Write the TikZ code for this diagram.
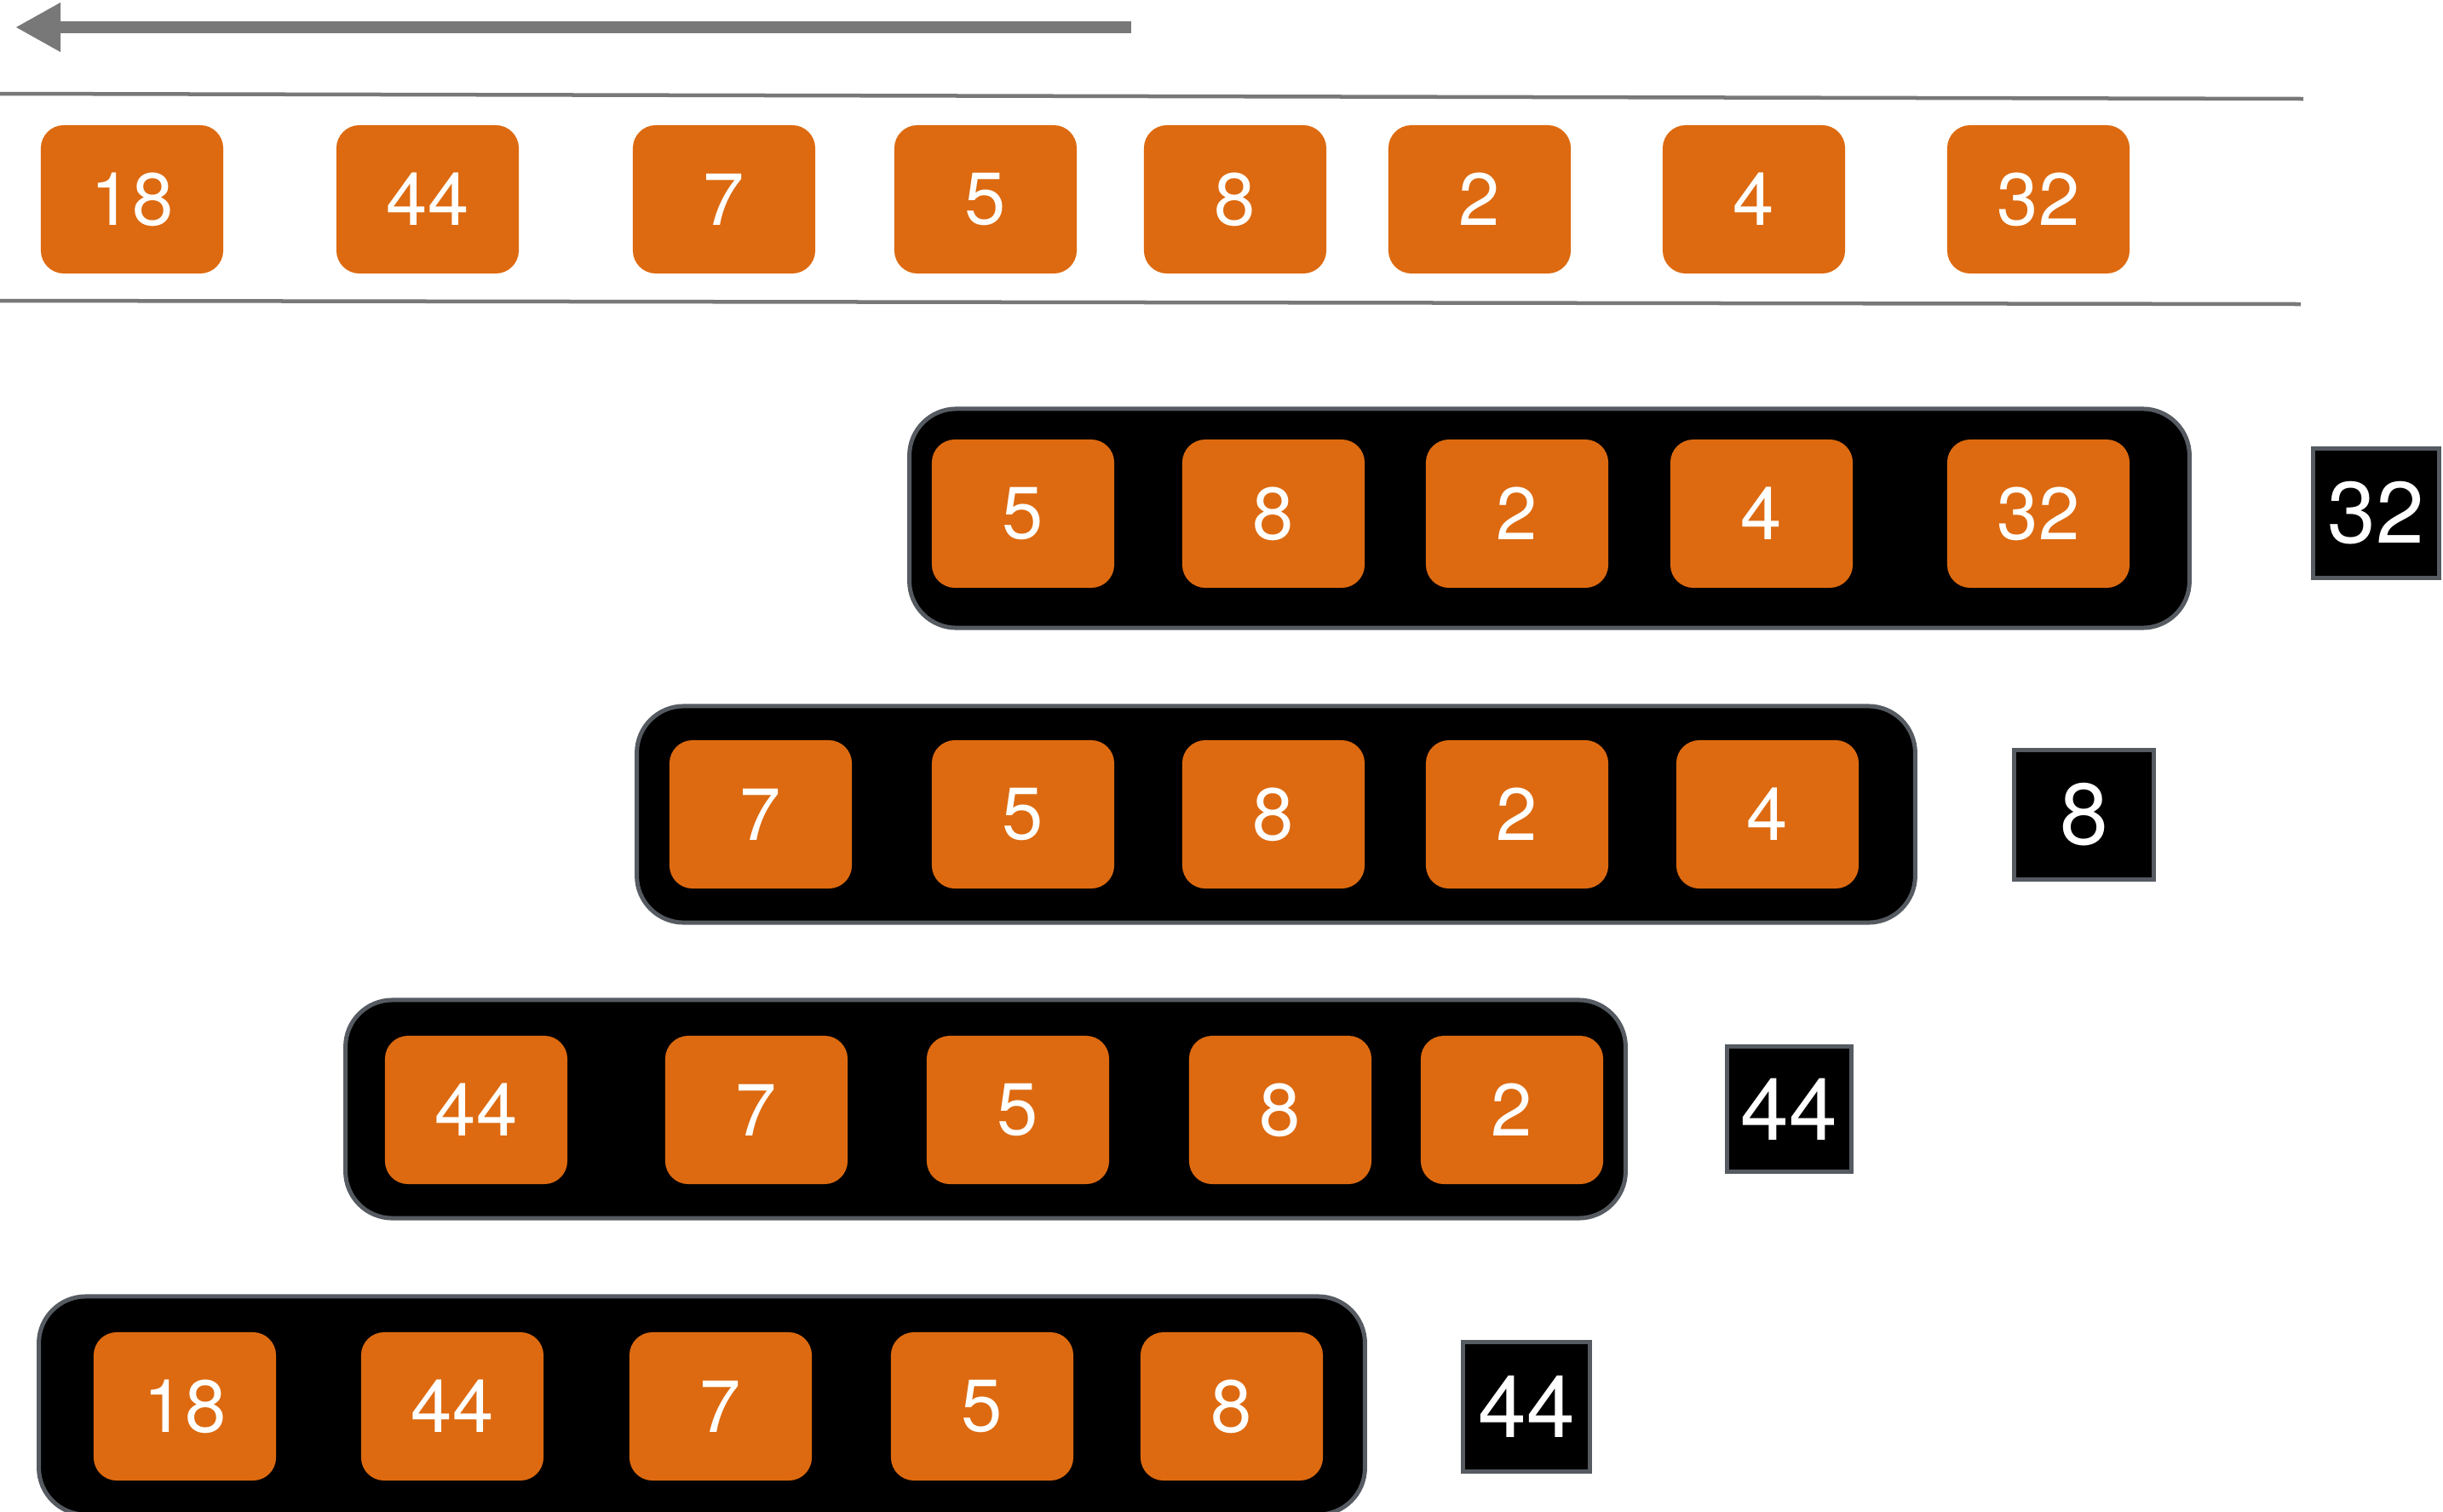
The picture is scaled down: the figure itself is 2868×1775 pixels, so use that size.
\documentclass[tikz,border=0pt]{standalone}
\usepackage{fontspec}
\setmainfont{TeX Gyre Heros}
\usetikzlibrary{arrows.meta}
\definecolor{rustorange}{HTML}{DD6A10}
\definecolor{rimgray}{HTML}{565B62}
\definecolor{linegray}{HTML}{777877}
\tikzset{
  num/.style={rectangle, rounded corners=0.27cm, fill=rustorange, text=white,
    minimum width=2.14cm, minimum height=1.74cm, inner sep=0pt,
    font=\fontsize{24.7pt}{28pt}\selectfont},
  tray/.style={rectangle, rounded corners=0.55cm, fill=black, draw=rimgray,
    line width=0.05cm, inner sep=0pt},
  result/.style={rectangle, fill=black, draw=rimgray, line width=0.05cm,
    text=white, inner sep=0pt, font=\fontsize{29pt}{33pt}\selectfont},
  rail/.style={draw=linegray, line width=0.045cm}
}
\begin{document}
\begin{tikzpicture}[x=0.01cm, y=-0.01cm]
\useasboundingbox (0,0) rectangle (2868,1775);
% direction arrow
\coordinate (atail) at (1328,32);
\coordinate (ahead) at (18,32);
\draw[linegray, line width=0.14cm, -{Triangle[length=0.53cm,width=0.54cm]}] (atail) -- (ahead);
% rails
\coordinate (r1a) at (0,110); \coordinate (r1b) at (2704,116);
\coordinate (r2a) at (0,353); \coordinate (r2b) at (2701,357);
\draw[rail] (r1a) -- (r1b);
\draw[rail] (r2a) -- (r2b);
% stream
\node[num] (s1) at (155,234) {18};
\node[num] (s2) at (502,234) {44};
\node[num] (s3) at (850,234) {7};
\node[num] (s4) at (1157,234) {5};
\node[num] (s5) at (1450,234) {8};
\node[num] (s6) at (1737,234) {2};
\node[num] (s7) at (2059,234) {4};
\node[num] (s8) at (2393,234) {32};
% window 1
\node[tray, minimum width=15.02cm, minimum height=2.57cm] (w1) at (1819,608.5) {};
\node[num] (a1) at (1201,603) {5};
\node[num] (a2) at (1495,603) {8};
\node[num] (a3) at (1781,603) {2};
\node[num] (a4) at (2068,603) {4};
\node[num] (a5) at (2393,603) {32};
\node[result, minimum width=1.47cm, minimum height=1.51cm] (m1) at (2789.5,602.5) {32};
% window 2
\node[tray, minimum width=15.00cm, minimum height=2.54cm] (w2) at (1498,956) {};
\node[num] (b1) at (893,956) {7};
\node[num] (b2) at (1201,956) {5};
\node[num] (b3) at (1495,956) {8};
\node[num] (b4) at (1781,956) {2};
\node[num] (b5) at (2075,956) {4};
\node[result, minimum width=1.63cm, minimum height=1.51cm] (m2) at (2446.5,956.5) {8};
% window 3
\node[tray, minimum width=15.02cm, minimum height=2.56cm] (w3) at (1157,1302) {};
\node[num] (c1) at (559,1303) {44};
\node[num] (c2) at (888,1303) {7};
\node[num] (c3) at (1195,1303) {5};
\node[num] (c4) at (1503,1303) {8};
\node[num] (c5) at (1775,1303) {2};
\node[result, minimum width=1.45cm, minimum height=1.46cm] (m3) at (2100.5,1302) {44};
% window 4
\node[tray, minimum width=15.56cm, minimum height=2.56cm] (w4) at (824,1650) {};
\node[num] (d1) at (217,1651) {18};
\node[num] (d2) at (531,1651) {44};
\node[num] (d3) at (846,1651) {7};
\node[num] (d4) at (1153,1651) {5};
\node[num] (d5) at (1446,1651) {8};
\node[result, minimum width=1.48cm, minimum height=1.51cm] (m4) at (1792,1651.5) {44};
\end{tikzpicture}
\end{document}
